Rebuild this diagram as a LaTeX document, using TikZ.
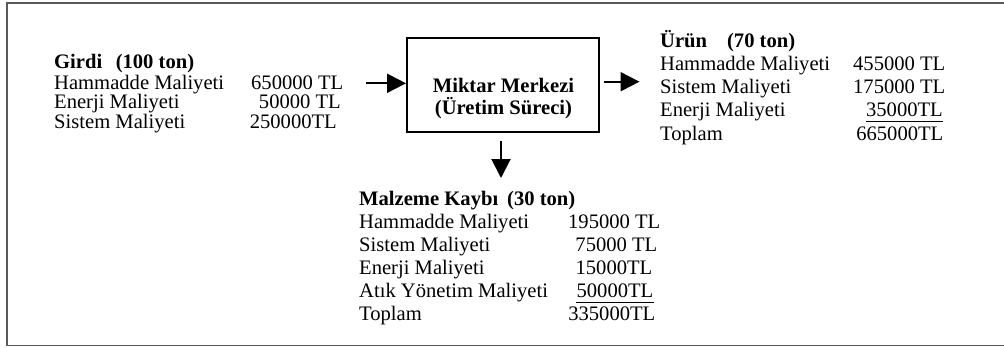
\documentclass[tikz,border=0pt]{standalone}
\usepackage{fontspec}
\setmainfont{Liberation Serif}
\usetikzlibrary{arrows.meta}
\newcommand\diagfont{\fontsize{20.6pt}{23pt}\selectfont}
\begin{document}
\begin{tikzpicture}[x=1pt,y=-1pt,
  txt/.style={anchor=base west,inner sep=0pt,font=\diagfont},
  val/.style={anchor=base east,inner sep=0pt,font=\diagfont},
  hd/.style={txt,font=\diagfont\bfseries},
  frame/.style={draw=black!65,line width=1.8pt},
  procbox/.style={draw,line width=2pt,minimum width=192pt,minimum height=94pt,inner sep=0pt},
  flow/.style={line width=2pt,-{Triangle[length=19pt,width=19pt]}},
  uline/.style={line width=1.2pt}]
\useasboundingbox (0,0) rectangle (1004,348);

% outer frame (open on the right)
\draw[frame] (1004,3) -- (7,3) -- (7,345.5) -- (1004,345.5);

% process box
\node[procbox] (proc) at (503,85) {};
\node[anchor=base,inner sep=0pt,font=\diagfont\bfseries] (proc1) at (503.5,92) {Miktar Merkezi};
\node[anchor=base,inner sep=0pt,font=\diagfont\bfseries] (proc2) at (503.5,114.5) {(Üretim Süreci)};

% arrows
\coordinate (inA) at (366,83.3);
\coordinate (outB) at (639.5,81.7);
\coordinate (lossB) at (501,178);
\draw[flow] (inA) -- (inA -| proc.west);
\draw[flow] (outB -| proc.east) ++(3.5,0) -- (outB);
\draw[flow] (lossB |- proc.south) ++(0,8) -- (lossB);

% input
\node[hd] (g0) at (54,68.5) {Girdi\hspace{13.5pt}(100 ton)};
\node[txt] (g1) at (54,89) {Hammadde Maliyeti};
\node[txt] (g2) at (54,108.5) {Enerji Maliyeti};
\node[txt] (g3) at (54,128) {Sistem Maliyeti};
\node[val] (gv1) at (343.5,89) {650000 TL};
\node[val] (gv2) at (341,108.5) {50000 TL};
\node[val] (gv3) at (337,128) {250000TL};

% product
\node[hd] (u0) at (660,47) {Ürün\hspace{20pt}(70 ton)};
\node[txt] (u1) at (660,70) {Hammadde Maliyeti};
\node[txt] (u2) at (660,93) {Sistem Maliyeti};
\node[txt] (u3) at (660,116.5) {Enerji Maliyeti};
\node[txt] (u4) at (660,140) {Toplam};
\node[val] (uv1) at (945.5,70) {455000 TL};
\node[val] (uv2) at (945.5,93) {175000 TL};
\node[val] (uv3) at (943,116.5) {35000TL};
\node[val] (uv4) at (943.5,140) {665000TL};
\draw[uline] ([yshift=-5pt]uv3.base west) -- ([yshift=-5pt]uv3.base east);

% material loss
\node[hd] (m0) at (359,205.7) {Malzeme Kaybı\hspace{9pt}(30 ton)};
\node[txt] (m1) at (359,228.6) {Hammadde Maliyeti};
\node[txt] (m2) at (359,251.5) {Sistem Maliyeti};
\node[txt] (m3) at (359,274.4) {Enerji Maliyeti};
\node[txt] (m4) at (359,297.3) {Atık Yönetim Maliyeti};
\node[txt] (m5) at (359,320.2) {Toplam};
\node[val] (mv1) at (660.5,228.6) {195000 TL};
\node[val] (mv2) at (657.5,251.5) {75000 TL};
\node[val] (mv3) at (652.5,274.4) {15000TL};
\node[val] (mv4) at (653.5,297.3) {50000TL};
\node[val] (mv5) at (655.5,320.2) {335000TL};
\draw[uline] ([yshift=-5.5pt]mv4.base west) -- ([yshift=-5.5pt]mv4.base east);
\end{tikzpicture}
\end{document}
